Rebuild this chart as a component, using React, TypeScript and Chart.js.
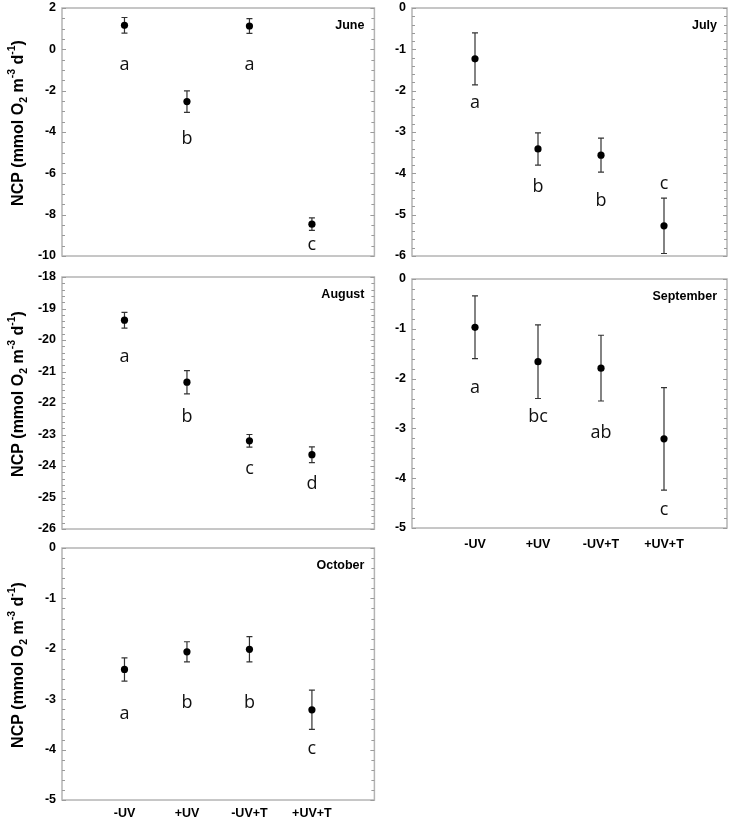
import { useEffect, useRef } from "react";
import { Chart, registerables } from "chart.js";
import type { Plugin } from "chart.js";

Chart.register(...registerables);

const treatments = ["-UV", "+UV", "-UV+T", "+UV+T"];

// June
const juneNcp = [1.16, -2.53, 1.13, -8.46];
const juneSe = [0.38, 0.52, 0.36, 0.3];
const juneGroups = ["a", "b", "a", "c"];
const juneGroupY = [-0.75, -4.35, -0.75, -9.45];

// July
const julyNcp = [-1.23, -3.41, -3.56, -5.27];
const julySe = [0.63, 0.39, 0.41, 0.67];
const julyGroups = ["a", "b", "b", "c"];
const julyGroupY = [-2.3, -4.33, -4.66, -4.25];

// August
const augustNcp = [-19.37, -21.34, -23.2, -23.64];
const augustSe = [0.25, 0.37, 0.2, 0.25];
const augustGroups = ["a", "b", "c", "d"];
const augustGroupY = [-20.55, -22.45, -24.09, -24.58];

// September
const septemberNcp = [-0.97, -1.66, -1.79, -3.21];
const septemberSe = [0.63, 0.74, 0.66, 1.03];
const septemberGroups = ["a", "bc", "ab", "c"];
const septemberGroupY = [-2.18, -2.77, -3.08, -4.63];

// October
const octoberNcp = [-2.41, -2.06, -2.01, -3.21];
const octoberSe = [0.23, 0.2, 0.25, 0.39];
const octoberGroups = ["a", "b", "b", "c"];
const octoberGroupY = [-3.3, -3.07, -3.07, -3.99];

// y axis: [min, max, major step, minor step]
const juneAxis = [-10, 2, 2, 0.5];
const julyAxis = [-6, 0, 1, 0.2];
const augustAxis = [-26, -18, 1, 0.2];
const septemberAxis = [-5, 0, 1, 0.2];
const octoberAxis = [-5, 0, 1, 0.2];

interface PanelSpec {
  month: string;
  ncp: number[];
  se: number[];
  groups: string[];
  groupY: number[];
  axis: number[];
  left: number;
  top: number;
  width: number;
  height: number;
  yw: number;
  padRight: number;
  xh: number; // 0 = no x labels
  xPad: number;
  yTitle: boolean;
}

const panels: PanelSpec[] = [
  { month: "June", ncp: juneNcp, se: juneSe, groups: juneGroups, groupY: juneGroupY, axis: juneAxis,
    left: 0, top: 0, width: 378, height: 264, yw: 62, padRight: 1, xh: 0, xPad: 0, yTitle: true },
  { month: "July", ncp: julyNcp, se: julySe, groups: julyGroups, groupY: julyGroupY, axis: julyAxis,
    left: 378, top: 0, width: 354, height: 264, yw: 34, padRight: 5, xh: 0, xPad: 0, yTitle: false },
  { month: "August", ncp: augustNcp, se: augustSe, groups: augustGroups, groupY: augustGroupY, axis: augustAxis,
    left: 0, top: 269, width: 378, height: 268, yw: 62, padRight: 1, xh: 0, xPad: 0, yTitle: true },
  { month: "September", ncp: septemberNcp, se: septemberSe, groups: septemberGroups, groupY: septemberGroupY, axis: septemberAxis,
    left: 378, top: 271, width: 354, height: 283, yw: 34, padRight: 5, xh: 26, xPad: 9, yTitle: false },
  { month: "October", ncp: octoberNcp, se: octoberSe, groups: octoberGroups, groupY: octoberGroupY, axis: octoberAxis,
    left: 0, top: 540, width: 378, height: 280, yw: 62, padRight: 1, xh: 20, xPad: 6, yTitle: true },
];

const FAMILY = "'Liberation Sans', Arial, sans-serif";

function isMajor(v: number, step: number) {
  return Math.abs(v / step - Math.round(v / step)) < 1e-6;
}

function drawYTitle(ctx: CanvasRenderingContext2D, cx: number, cy: number) {
  const runs: { t: string; size: number; dy: number }[] = [
    { t: "NCP (mmol O", size: 16, dy: 0 },
    { t: "2", size: 10.5, dy: 5 },
    { t: " m", size: 16, dy: 0 },
    { t: "-3", size: 10.5, dy: -6.5 },
    { t: " d", size: 16, dy: 0 },
    { t: "-1", size: 10.5, dy: -6.5 },
    { t: ")", size: 16, dy: 0 },
  ];
  ctx.save();
  ctx.translate(cx, cy);
  ctx.rotate(-Math.PI / 2);
  ctx.fillStyle = "#000";
  ctx.textBaseline = "middle";
  ctx.textAlign = "left";
  let total = 0;
  runs.forEach((r) => {
    ctx.font = `bold ${r.size}px ${FAMILY}`;
    total += ctx.measureText(r.t).width;
  });
  let x = -total / 2;
  runs.forEach((r) => {
    ctx.font = `bold ${r.size}px ${FAMILY}`;
    ctx.fillText(r.t, x, r.dy);
    x += ctx.measureText(r.t).width;
  });
  ctx.restore();
}

function NcpPanel({ p }: { p: PanelSpec }) {
  const canvasRef = useRef<HTMLCanvasElement>(null);

  useEffect(() => {
    const ctx = canvasRef.current?.getContext("2d");
    if (!ctx) return;
    const [yMin, yMax, major, minor] = p.axis;

    const decor: Plugin<"scatter"> = {
      id: "ncpDecor",
      beforeDatasetsDraw(chart) {
        const c = chart.ctx;
        const xs = chart.scales.x;
        const ys = chart.scales.y;
        const { left, right, top, bottom } = chart.chartArea;
        c.save();
        // frame
        c.strokeStyle = "#b4b4b4";
        c.lineWidth = 1.5;
        c.strokeRect(left, top, right - left, bottom - top);
        // inward ticks on both sides
        c.strokeStyle = "#9a9a9a";
        c.lineWidth = 1;
        ys.ticks.forEach((t) => {
          const y = Math.round(ys.getPixelForValue(t.value)) + 0.5;
          const len = isMajor(t.value, major) ? 4 : 3;
          c.beginPath();
          c.moveTo(left, y);
          c.lineTo(left + len, y);
          c.moveTo(right, y);
          c.lineTo(right - len, y);
          c.stroke();
        });
        // error bars
        c.strokeStyle = "#333";
        c.lineWidth = 1.2;
        p.ncp.forEach((v, i) => {
          const x = xs.getPixelForValue(i + 1);
          const y1 = ys.getPixelForValue(v + p.se[i]);
          const y2 = ys.getPixelForValue(v - p.se[i]);
          c.beginPath();
          c.moveTo(x, y1);
          c.lineTo(x, y2);
          c.moveTo(x - 3, y1);
          c.lineTo(x + 3, y1);
          c.moveTo(x - 3, y2);
          c.lineTo(x + 3, y2);
          c.stroke();
        });
        c.restore();
      },
      afterDatasetsDraw(chart) {
        const c = chart.ctx;
        const xs = chart.scales.x;
        const ys = chart.scales.y;
        const { right, top, bottom } = chart.chartArea;
        c.save();
        // significance letters
        c.fillStyle = "#111";
        c.textAlign = "center";
        c.textBaseline = "middle";
        c.font = "18px 'Open Sans', sans-serif";
        p.groups.forEach((g, i) => {
          c.fillText(g, xs.getPixelForValue(i + 1), ys.getPixelForValue(p.groupY[i]));
        });
        // month label
        c.fillStyle = "#000";
        c.textAlign = "right";
        c.font = `bold 12.5px ${FAMILY}`;
        c.fillText(p.month, right - 10, top + 18);
        c.restore();
        if (p.yTitle) drawYTitle(c, 19, (top + bottom) / 2 - 9);
      },
    };

    const chart = new Chart(ctx, {
      type: "scatter",
      data: {
        datasets: [
          {
            label: p.month,
            data: p.ncp.map((v, i) => ({ x: i + 1, y: v })),
            pointRadius: 3.6,
            pointHoverRadius: 3.6,
            backgroundColor: "#000",
            borderWidth: 0,
          },
        ],
      },
      options: {
        responsive: true,
        maintainAspectRatio: false,
        animation: false,
        layout: { padding: { top: 8, right: p.padRight, bottom: p.xh ? 0 : 8, left: 0 } },
        plugins: { legend: { display: false }, tooltip: { enabled: false } },
        scales: {
          x: {
            type: "linear",
            min: 0,
            max: 5,
            display: p.xh > 0,
            grid: { display: false, drawTicks: false },
            border: { display: false },
            afterBuildTicks: (s) => {
              s.ticks = treatments.map((_, i) => ({ value: i + 1 }));
            },
            afterFit: (s: any) => {
              s.height = p.xh;
              s.paddingLeft = 0;
              s.paddingRight = 0;
            },
            ticks: {
              autoSkip: false,
              maxRotation: 0,
              padding: p.xPad,
              color: "#000",
              font: { family: FAMILY, weight: "bold", size: 12.5 },
              callback: (v) => treatments[Number(v) - 1] ?? "",
            },
          },
          y: {
            type: "linear",
            min: yMin,
            max: yMax,
            grid: { display: false, drawTicks: false },
            border: { display: false },
            afterFit: (s: any) => {
              s.width = p.yw;
              s.paddingTop = 0;
              s.paddingBottom = 0;
            },
            ticks: {
              stepSize: minor,
              autoSkip: false,
              padding: 6,
              color: "#000",
              font: { family: FAMILY, weight: "bold", size: 12.5 },
              callback: (v) => (isMajor(Number(v), major) ? String(Math.round(Number(v))) : ""),
            },
          },
        },
      },
      plugins: [decor],
    });

    return () => chart.destroy();
  }, [p]);

  return (
    <div style={{ position: "absolute", left: p.left, top: p.top, width: p.width, height: p.height }}>
      <canvas ref={canvasRef} />
    </div>
  );
}

export default function App() {
  return (
    <div style={{ position: "fixed", left: 0, top: 0, width: 732, height: 820, background: "#fff" }}>
      {panels.map((p) => (
        <NcpPanel key={p.month} p={p} />
      ))}
    </div>
  );
}
